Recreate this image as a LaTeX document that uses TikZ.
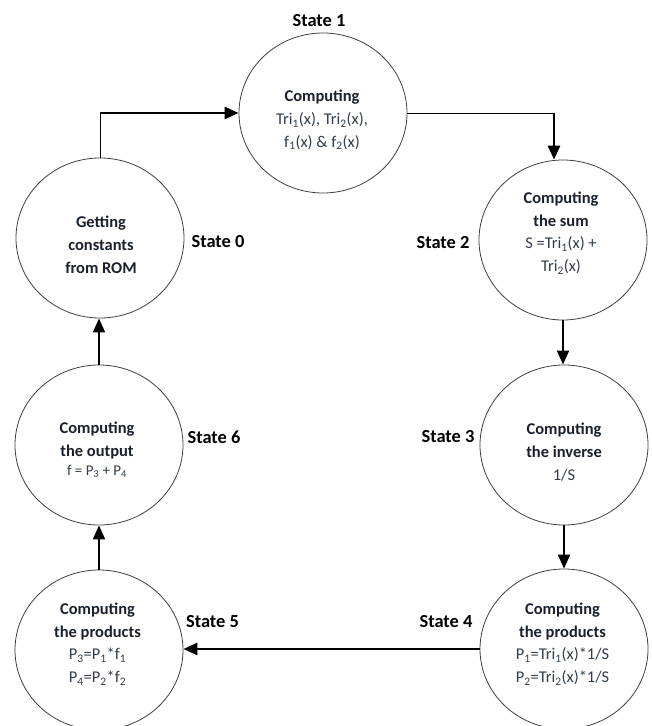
\documentclass[tikz,border=0pt]{standalone}
\usepackage{fontspec}
\setmainfont{Carlito}
\usetikzlibrary{shapes.geometric,arrows.meta}
\definecolor{ttl}{HTML}{1A212C}
\definecolor{subc}{HTML}{323D4D}
\definecolor{rim}{HTML}{404040}
\newcommand\ttlx[1]{{\bfseries\color{ttl}#1}}
\newcommand\sbx[1]{\textsubscript{#1}}
\tikzset{
  statecirc/.style={ellipse, draw=rim, line width=0.8bp, minimum width=168bp, minimum height=160bp, inner sep=0pt},
  txt/.style={align=center, font=\fontsize{16.5}{23}\selectfont, text=subc, inner sep=0pt},
  lbl/.style={font=\fontsize{18.5}{22}\selectfont\bfseries, text=black, inner sep=0pt},
  thinln/.style={line width=0.8bp, draw=black},
  heavy/.style={line width=2.8bp, draw=black, -{Triangle[length=14bp,width=12bp]}},
  midln/.style={line width=1.9bp, draw=black, -{Triangle[length=14bp,width=12bp]}}
}
\begin{document}
\begin{tikzpicture}[x=1bp,y=-1bp]
\useasboundingbox[fill=white] (0,0) rectangle (652,726);
% states
\node[statecirc] (s1) at (323,113) {};
\node[statecirc] (s0) at (100,238) {};
\node[statecirc] (s2) at (563,240) {};
\node[statecirc] (s3) at (564,445) {};
\node[statecirc] (s4) at (564,649) {};
\node[statecirc] (s5) at (99,650) {};
\node[statecirc] (s6) at (99,445) {};
% texts
\node[txt] (t1) at (322,120) {\ttlx{Computing}\\ Tri\sbx{1}(x), Tri\sbx{2}(x),\\ f\sbx{1}(x) \& f\sbx{2}(x)};
\node[txt] (t0) at (101,245) {\ttlx{Getting}\\ \ttlx{constants}\\ \ttlx{from ROM}};
\node[txt] (t2) at (561,233) {\ttlx{Computing}\\ \ttlx{the sum}\\ S =Tri\sbx{1}(x) +\\ Tri\sbx{2}(x)};
\node[txt] (t3) at (564,452) {\ttlx{Computing}\\ \ttlx{the inverse}\\ 1/S};
\node[txt] (t6) at (97,450) {\ttlx{Computing}\\ \ttlx{the output}\\[-4bp] {\fontsize{15}{23}\selectfont f = P\sbx{3} + P\sbx{4}}};
\node[txt] (t5) at (97.5,644) {\ttlx{Computing}\\ \ttlx{the products}\\ P\sbx{3}=P\sbx{1}*f\sbx{1}\\ P\sbx{4}=P\sbx{2}*f\sbx{2}};
\node[txt] (t4) at (562.5,644) {\ttlx{Computing}\\ \ttlx{the products}\\ P\sbx{1}=Tri\sbx{1}(x)*1/S\\ P\sbx{2}=Tri\sbx{2}(x)*1/S};
% labels
\node[lbl] (l1) at (319,21) {State 1};
\node[lbl] (l0) at (218,242) {State 0};
\node[lbl] (l2) at (443,243) {State 2};
\node[lbl] (l6) at (214,437) {State 6};
\node[lbl] (l3) at (448,437) {State 3};
\node[lbl] (l5) at (212.5,622) {State 5};
\node[lbl] (l4) at (446,622) {State 4};
% connectors
\coordinate (c01) at (s0.north |- s1.west);
\draw[thinln] (s0.north) -- (c01);
\draw[heavy] (c01) -- (s1.west);
\path (s1.east -| s2.north) ++(-9,0) coordinate (c12);
\draw[thinln] (s1.east) -- (c12);
\draw[heavy] (c12) -- (c12 |- s2.north);
\draw[midln] (s2.south) -- (s2.south |- s3.north);
\draw[midln] (s3.south) -- (s4.north);
\draw[heavy] (s4.west) -- (s4.west -| s5.east);
\draw[midln] (s5.north) -- (s5.north |- s6.south);
\draw[midln] (s6.north) -- (s6.north |- s0.south);
\end{tikzpicture}
\end{document}
